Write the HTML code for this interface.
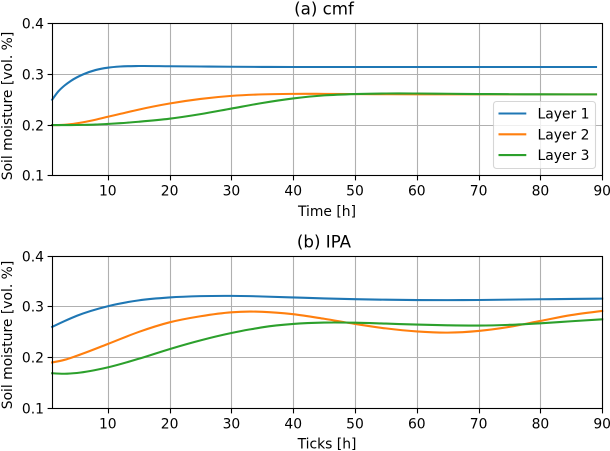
<!DOCTYPE html>
<html lang="en">
<head>
<meta charset="utf-8">
<title>Soil moisture: cmf and IPA</title>
<style>
html,body{margin:0;padding:0;background:#fff;}
body{width:610px;height:451px;overflow:hidden;}
svg{display:block;font-family:"DejaVu Sans","Liberation Sans",sans-serif;fill:#000;}
</style>
</head>
<body>
<svg id="figure" width="610" height="451" viewBox="0 0 610 451" xmlns="http://www.w3.org/2000/svg"></svg>
<script>
const xTicks = [10, 20, 30, 40, 50, 60, 70, 80, 90];
const yTicks = [0.1, 0.2, 0.3, 0.4];
const yTickLabels = ['0.1', '0.2', '0.3', '0.4'];
const seriesNames = ['Layer 1', 'Layer 2', 'Layer 3'];

const hoursCmf = [1, 2, 3, 4, 6, 8, 10, 12, 15, 20, 25, 30, 35, 40, 45, 50, 55, 60, 65, 70, 75, 80, 85, 89];
const cmfLayer1 = [0.25, 0.2665, 0.278, 0.287, 0.3, 0.3085, 0.3132, 0.3155, 0.3165, 0.316, 0.3155, 0.315, 0.3147, 0.3145, 0.3145, 0.3145, 0.3145, 0.3145, 0.3145, 0.3145, 0.3145, 0.3145, 0.3145, 0.3145];
const cmfLayer2 = [0.2, 0.2, 0.2005, 0.2017, 0.2055, 0.2105, 0.2163, 0.222, 0.2305, 0.2425, 0.2515, 0.2575, 0.2605, 0.2615, 0.2615, 0.2612, 0.2608, 0.2605, 0.2605, 0.2605, 0.2605, 0.2605, 0.2605, 0.2605];
const cmfLayer3 = [0.2, 0.2, 0.2, 0.2, 0.2003, 0.2009, 0.2022, 0.2036, 0.2065, 0.2125, 0.2215, 0.2325, 0.2435, 0.2525, 0.2585, 0.2612, 0.2622, 0.2622, 0.2617, 0.2612, 0.2608, 0.2606, 0.2605, 0.2605];

const hoursIpa = [1, 3, 5, 10, 15, 20, 25, 30, 33, 35, 40, 45, 50, 55, 60, 65, 70, 75, 80, 85, 90];
const ipaLayer1 = [0.2605, 0.272, 0.2825, 0.3013, 0.3128, 0.3186, 0.3212, 0.3217, 0.3212, 0.3205, 0.3186, 0.3166, 0.3151, 0.3141, 0.3134, 0.3133, 0.3136, 0.3143, 0.315, 0.3157, 0.3163];
const ipaLayer2 = [0.1903, 0.1955, 0.2035, 0.2267, 0.2505, 0.2695, 0.2815, 0.2893, 0.2907, 0.2903, 0.2855, 0.2765, 0.2663, 0.2575, 0.2515, 0.2492, 0.2525, 0.2605, 0.2722, 0.2838, 0.292];
const ipaLayer3 = [0.169, 0.168, 0.1695, 0.1805, 0.1975, 0.2167, 0.2339, 0.2484, 0.2555, 0.2597, 0.2663, 0.269, 0.2688, 0.267, 0.265, 0.2636, 0.2631, 0.2645, 0.2676, 0.2716, 0.2755];

const colors = ['#1f77b4', '#ff7f0e', '#2ca02c'];
const NS = 'http://www.w3.org/2000/svg';
const fig = document.getElementById('figure');

function make(parent, tag, attrs, text) {
  const el = document.createElementNS(NS, tag);
  for (const k in attrs) el.setAttribute(k, attrs[k]);
  if (text !== undefined) el.textContent = text;
  parent.appendChild(el);
  return el;
}

function snap(v) {
  return Math.floor(v + 0.5) + 0.5;
}

function smoothPath(xs, ys, sx, sy) {
  const p = xs.map((x, i) => [sx(x), sy(ys[i])]);
  const n = p.length;
  const slopes = p.map((pt, i) => {
    if (i === 0 || i === n - 1) return 0;
    const h0 = pt[0] - p[i - 1][0], h1 = p[i + 1][0] - pt[0];
    const d0 = (pt[1] - p[i - 1][1]) / h0, d1 = (p[i + 1][1] - pt[1]) / h1;
    return (d0 * h1 + d1 * h0) / (h0 + h1);
  });
  slopes[0] = 1.5 * (p[1][1] - p[0][1]) / (p[1][0] - p[0][0]) - 0.5 * slopes[1];
  slopes[n - 1] = 1.5 * (p[n - 1][1] - p[n - 2][1]) / (p[n - 1][0] - p[n - 2][0]) - 0.5 * slopes[n - 2];
  let d = 'M' + p[0][0].toFixed(2) + ' ' + p[0][1].toFixed(2);
  for (let i = 0; i < n - 1; i++) {
    const b = p[i], c = p[i + 1];
    const h = (c[0] - b[0]) / 3;
    d += ' C' + (b[0] + h).toFixed(2) + ' ' + (b[1] + slopes[i] * h).toFixed(2) + ' ' +
      (c[0] - h).toFixed(2) + ' ' + (c[1] - slopes[i + 1] * h).toFixed(2) + ' ' +
      c[0].toFixed(2) + ' ' + c[1].toFixed(2);
  }
  return d;
}

function drawPanel(cfg) {
  const L = 52.2, R = 602.2, T = cfg.top, B = cfg.bottom;
  const sx = v => L + (v - 1) / 89 * (R - L);
  const sy = v => B - (v - 0.1) / 0.3 * (B - T);
  const curveY = v => sy(v) + 0.5;
  const fL = snap(L), fR = snap(R), fT = snap(T), fB = snap(B);

  const g = make(fig, 'g', {});
  
  

  xTicks.forEach(t => {
    const grid = make(g, 'line', {x1: snap(sx(t)), x2: snap(sx(t)), y1: fT, y2: fB, stroke: '#b0b0b0', 'stroke-width': 1.1});
    
    
  });
  yTicks.forEach(t => {
    const grid = make(g, 'line', {x1: fL, x2: fR, y1: snap(sy(t)), y2: snap(sy(t)), stroke: '#b0b0b0', 'stroke-width': 1.1});
    
    
  });

  cfg.series.forEach((vals, i) => {
    const line = make(g, 'path', {d: smoothPath(cfg.hours, vals, sx, curveY), fill: 'none', stroke: colors[i], 'stroke-width': 2.08, 'stroke-linecap': 'square'});
    
    
  });

  const frame = make(g, 'rect', {x: fL, y: fT, width: fR - fL, height: fB - fT, fill: 'none', stroke: '#000', 'stroke-width': 1.1});
  
  

  xTicks.forEach(t => {
    const tick = make(g, 'line', {x1: snap(sx(t)), x2: snap(sx(t)), y1: fB, y2: fB + 4.9, stroke: '#000', 'stroke-width': 1.1});
    
    
    const label = make(g, 'text', {x: sx(t), y: fB + 20, 'font-size': 13.89, 'text-anchor': 'middle'}, String(t));
    
    
  });
  yTicks.forEach((t, i) => {
    const tick = make(g, 'line', {x1: fL - 4.9, x2: fL, y1: snap(sy(t)), y2: snap(sy(t)), stroke: '#000', 'stroke-width': 1.1});
    
    
    const label = make(g, 'text', {x: 44, y: snap(sy(t)) + 5, 'font-size': 13.89, 'text-anchor': 'end'}, yTickLabels[i]);
    
    
  });

  const title = make(g, 'text', {x: 324, y: cfg.titleY, 'font-size': 16.67, 'text-anchor': 'middle'}, cfg.title);
  
  

  const xLabel = make(g, 'text', {x: 327, y: cfg.xLabelY, 'font-size': 13.89, 'text-anchor': 'middle'}, cfg.xLabel);
  
  

  const yLabel = make(g, 'text', {x: 0, y: 0, 'font-size': 13.89, 'text-anchor': 'middle', transform: 'translate(12 ' + cfg.yLabelCenter + ') rotate(-90)'}, 'Soil moisture [vol. %]');
  
  

  return g;
}

const panelA = drawPanel({
  key: 'cmf', top: 23.2, bottom: 175.2, title: '(a) cmf', titleY: 14.5, xLabel: 'Time [h]', xLabelY: 216, yLabelCenter: 106,
  hours: hoursCmf, series: [cmfLayer1, cmfLayer2, cmfLayer3]
});
drawPanel({
  key: 'ipa', top: 255.7, bottom: 407.7, title: '(b) IPA', titleY: 247.5, xLabel: 'Ticks [h]', xLabelY: 448.3, yLabelCenter: 335,
  hours: hoursIpa, series: [ipaLayer1, ipaLayer2, ipaLayer3]
});

const legend = make(panelA, 'g', {});


const legendBox = make(legend, 'rect', {x: 493.5, y: 101.5, width: 102, height: 67, rx: 3, ry: 3, fill: '#fff', 'fill-opacity': 0.8, stroke: '#ccc', 'stroke-opacity': 0.8, 'stroke-width': 1.1});


seriesNames.forEach((name, i) => {
  const rowY = 113.5 + i * 20.8;
  const handle = make(legend, 'line', {x1: 498.5, x2: 526.3, y1: rowY, y2: rowY, stroke: colors[i], 'stroke-width': 2.08});
  
  
  const label = make(legend, 'text', {x: 537.5, y: rowY + 5, 'font-size': 13.89}, name);
  
  
});
</script>
</body>
</html>
